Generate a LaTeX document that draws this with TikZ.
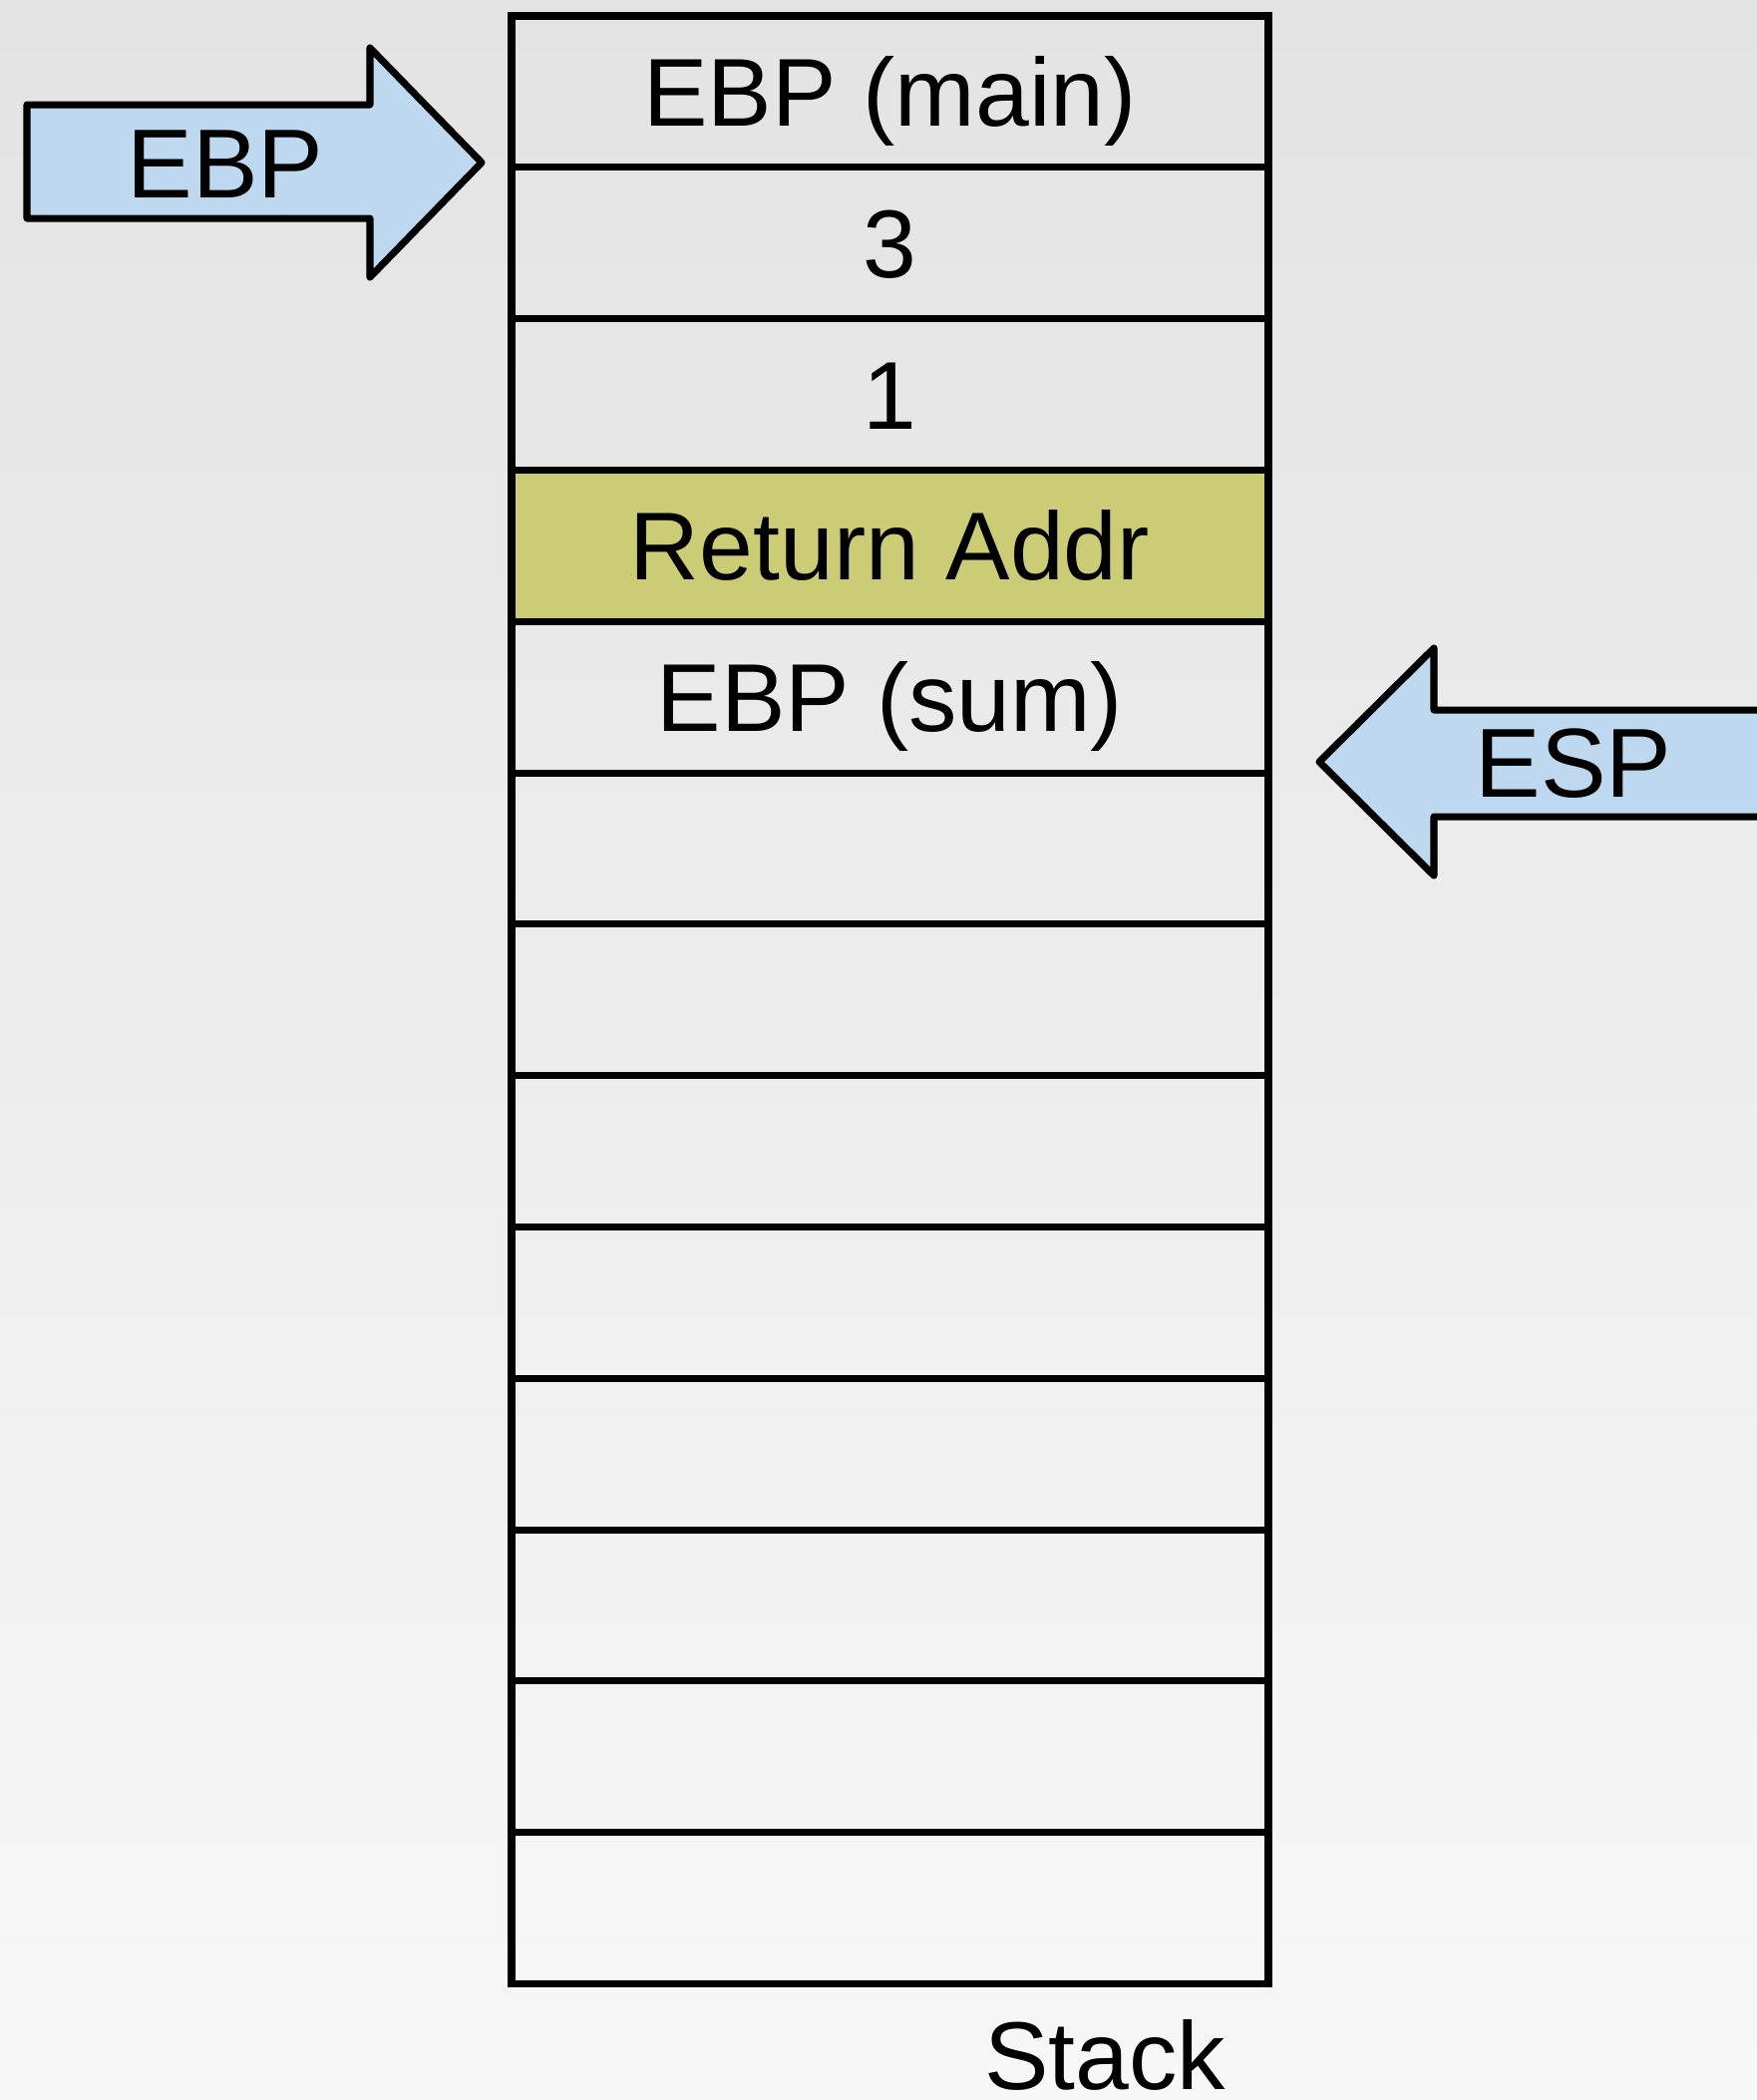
\documentclass[tikz,border=0pt]{standalone}
\usepackage{fontspec}
\setmainfont{Liberation Sans}
\usetikzlibrary{positioning}

\definecolor{bgtop}{RGB}{227,227,227}
\definecolor{bgbot}{RGB}{247,247,247}
\definecolor{ptrblue}{RGB}{190,216,240}
\definecolor{retolive}{RGB}{204,204,119}

\tikzset{
  slot/.style={draw, line width=2pt, minimum width=7.59cm, minimum height=1.518cm,
    inner sep=0pt, outer sep=0pt, text height=19.7pt, text depth=0pt,
    font=\fontsize{27.5}{33}\selectfont},
  pointer/.style={draw, fill=ptrblue, line width=2pt, line join=round},
  ptrlabel/.style={inner sep=0pt, text height=20pt, text depth=0pt,
    font=\fontsize{28}{33}\selectfont}
}

\begin{document}
\begin{tikzpicture}
                \useasboundingbox (0,0) rectangle (17.62,-21.06);
                \clip (0,0) rectangle (17.62,-21.06);
                \shade[top color=bgtop, bottom color=bgbot] (0,0) rectangle (17.62,-21.06);

                % the stack
                \node[slot] (s1) at (8.925,-0.919) {EBP (main)};
                \node[slot,below=0pt of s1] (s2) {3};
                \node[slot,below=0pt of s2] (s3) {1};
                \node[slot,fill=retolive,below=0pt of s3] (s4) {Return Addr};
                \node[slot,below=0pt of s4] (s5) {EBP (sum)};
                \foreach \i in {6,...,13}
                    \node[slot] (s\i) at (8.925,{-0.16-(\i-0.5)*1.518}) {};

                \node[anchor=base,inner sep=0pt,font=\fontsize{27.5}{33}\selectfont] (stacklbl) at (11.08,-20.95) {Stack};

                % base pointer
                \draw[pointer] (0.27,-1.05) -- (3.71,-1.05) -- (3.71,-0.48) -- (4.83,-1.63)
                    -- (3.71,-2.78) -- (3.71,-2.19) -- (0.27,-2.19) -- cycle;
                \node[ptrlabel] (ebp) at (2.26,-1.63) {EBP};

                % stack pointer
                \draw[pointer] (18,-7.12) -- (14.38,-7.12) -- (14.38,-6.50) -- (13.23,-7.64)
                    -- (14.38,-8.78) -- (14.38,-8.19) -- (18,-8.19);
                \node[ptrlabel] (esp) at (15.78,-7.64) {ESP};
            \end{tikzpicture}
\end{document}
